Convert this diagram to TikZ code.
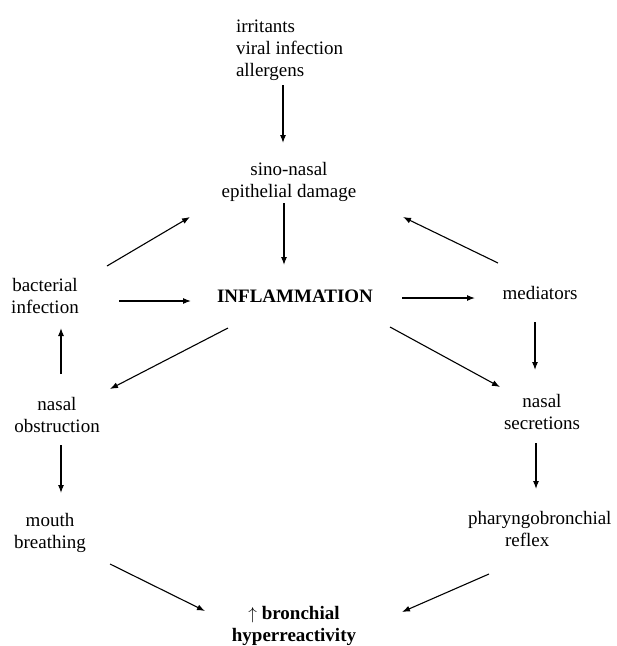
\documentclass[tikz,border=0pt]{standalone}
\usepackage{fontspec}
\setmainfont{Liberation Serif}
\usetikzlibrary{arrows.meta,calc}
\tikzset{
  lbl/.style={inner sep=0pt, outer sep=0pt, align=center, anchor=base,
    font=\fontsize{19}{22}\selectfont},
  lblb/.style={lbl, font=\fontsize{19}{22}\selectfont\bfseries},
  arr/.style={line width=1.1pt, -{Latex[length=8pt,width=6pt]}}
}
\begin{document}
\begin{tikzpicture}[x=1pt,y=-1pt]
\useasboundingbox (0,0) rectangle (617,646);
% multi-line nodes: base anchor = baseline of last line
\node[lbl, align=left, anchor=base west] (src) at (236,76) {irritants\\viral infection\\allergens};
\node[lbl] (epi) at (289,197) {sino-nasal\\epithelial damage};
\node[lblb] (infl) at (295,302) {INFLAMMATION};
\node[lbl] (bact) at (45,313) {bacterial\\infection};
\node[lbl] (med) at (540,299) {mediators};
\node[lbl] (nobs) at (57,432) {nasal\\obstruction};
\node[lbl] (nsec) at (542,429) {nasal\\secretions};
\node[lbl] (mouth) at (50,548) {mouth\\breathing};
\node[lbl, align=left, anchor=base west] (phar) at (468,546) {pharyngobronchial\\\hspace*{37pt}reflex};
\node[lblb] (bhr) at (294,641) {$\uparrow$ bronchial\\hyperreactivity};

\draw[arr] ($(src.base west)+(47,9)$) -- ($(epi.base)+(-6,-54)$);
\draw[arr] ($(epi.base)+(-5,6)$) -- ($(infl.base)+(-11,-37)$);
\draw[arr] ($(bact.base)+(62,-47)$) -- ($(epi.base)+(-99,20)$);
\draw[arr] ($(med.base)+(-42,-36)$) -- ($(epi.base)+(114,20)$);
\draw[arr] ($(bact.base)+(74,-12)$) -- ($(infl.base)+(-104,-1)$);
\draw[arr] ($(infl.base)+(107,-4)$) -- ($(med.base)+(-65,-1)$);
\draw[arr] ($(nobs.base)+(4,-58)$) -- ($(bact.base)+(16,15)$);
\draw[arr] ($(infl.base)+(-67,26)$) -- ($(nobs.base)+(53,-43)$);
\draw[arr] ($(infl.base)+(95,25)$) -- ($(nsec.base)+(-42,-42)$);
\draw[arr] ($(med.base)+(-5,23)$) -- ($(nsec.base)+(-7,-59)$);
\draw[arr] ($(nobs.base)+(4,13)$) -- ($(mouth.base)+(11,-55)$);
\draw[arr] ($(nsec.base)+(-6,14)$) -- ($(phar.base west)+(68,-57)$);
\draw[arr] ($(mouth.base)+(60,16)$) -- ($(bhr.base)+(-89,-30)$);
\draw[arr] ($(phar.base west)+(21,28)$) -- ($(bhr.base)+(108,-29)$);
\end{tikzpicture}
\end{document}
